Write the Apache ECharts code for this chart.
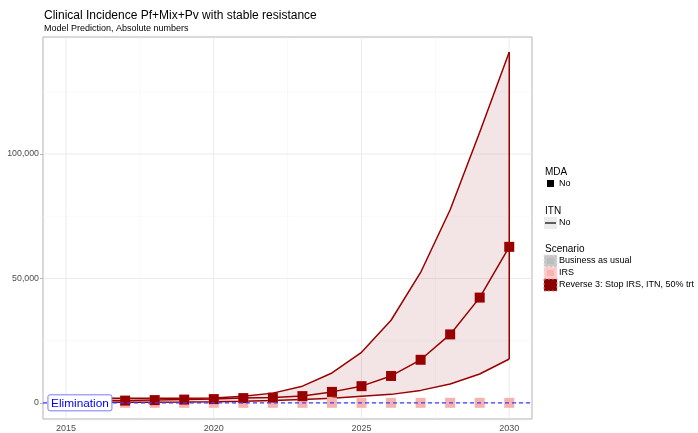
<!DOCTYPE html>
<html><head><meta charset="utf-8">
<script src="https://cdn.jsdelivr.net/npm/echarts@6/dist/echarts.min.js"></script>
<style>html,body{margin:0;padding:0;background:#fff}#c{width:698px;height:433px}</style>
</head><body><div id="c"></div>
<script>
var years = [2015,2016,2017,2018,2019,2020,2021,2022,2023,2024,2025,2026,2027,2028,2029,2030];
var medianVals = [900,900,900,1100,1300,1500,1900,2100,2700,4400,6700,10800,17300,27500,42300,62700];
var upperVals = [1800,1800,1800,1800,1850,1900,2600,3900,6700,12000,20300,33200,52400,77600,108800,141000];
var lowerVals = [200,200,200,250,300,400,600,900,1300,1800,2600,3400,5000,7600,11600,17600];
var irsYears = [2017,2018,2019,2020,2021,2022,2023,2024,2025,2026,2027,2028,2029,2030];
var irsVals = [0,0,0,0,0,0,0,0,0,0,0,0,0,0];
var xTicks = [2015,2020,2025,2030];
var xMinor = [2017.5,2022.5,2027.5];
var yTicks = [0,50000,100000];
var yMinor = [25000,75000,125000];
var eliminationLabel = {x: 2015.47, y: 0, text: 'Elimination'};

var FONT = '"Liberation Sans", Arial, sans-serif';
var RED = '#990000';
var X_MIN = 2014.22, X_MAX = 2030.77, Y_MIN = -6500, Y_MAX = 147050;
function pairs(xs, ys){ return xs.map(function(x,i){ return [x, ys[i]]; }); }
var last = years.length - 1;

var chart = echarts.init(document.getElementById('c'), null, {renderer:'canvas'});

var gridData = [];
xTicks.forEach(function(v){ gridData.push([0, v, 1]); });
xMinor.forEach(function(v){ gridData.push([0, v, 0]); });
yTicks.forEach(function(v){ gridData.push([1, v, 1]); });
yMinor.forEach(function(v){ gridData.push([1, v, 0]); });

function legendKey(x, y, fill, border, dot){
  var els = [{type:'rect', shape:{x:x, y:y, width:13, height:12}, style:{fill:fill, stroke:border, lineWidth:1, lineDash:[2,2]}}];
  if (dot) els.push({type:'rect', shape:{x:x+3, y:y+3, width:7, height:6}, style:{fill:dot}});
  return els;
}

var graphics = [
  {type:'text', left:44, top:10, style:{text:'Clinical Incidence Pf+Mix+Pv with stable resistance', font:'12px '+FONT, fill:'#000'}},
  {type:'text', left:44, top:24, style:{text:'Model Prediction, Absolute numbers', font:'9px '+FONT, fill:'#000'}},
  {type:'text', left:545, top:167, style:{text:'MDA', font:'10px '+FONT, fill:'#000'}},
  {type:'rect', shape:{x:547, y:180, width:7, height:7}, style:{fill:'#000'}},
  {type:'text', left:559, top:179, style:{text:'No', font:'9px '+FONT, fill:'#000'}},
  {type:'text', left:545, top:206, style:{text:'ITN', font:'10px '+FONT, fill:'#000'}},
  {type:'rect', shape:{x:544, y:217, width:13, height:12}, style:{fill:'#ebebeb'}},
  {type:'line', shape:{x1:545, y1:223, x2:556, y2:223}, style:{stroke:'#000', lineWidth:1.2}},
  {type:'text', left:559, top:218, style:{text:'No', font:'9px '+FONT, fill:'#000'}},
  {type:'text', left:545, top:244, style:{text:'Scenario', font:'10px '+FONT, fill:'#000'}}
].concat(
  legendKey(544, 255, '#c8c8c8', '#e4e4e4', '#bdbdbd'),
  legendKey(544, 267, '#fbcaca', '#fde4e4', '#f8b4b0'),
  legendKey(544, 279, '#8b0000', '#d08080', '#8b0000')
).concat([
  {type:'text', left:559, top:256, style:{text:'Business as usual', font:'9px '+FONT, fill:'#000'}},
  {type:'text', left:559, top:268, style:{text:'IRS', font:'9px '+FONT, fill:'#000'}},
  {type:'text', left:559, top:280, style:{text:'Reverse 3: Stop IRS, ITN, 50% trt', font:'9px '+FONT, fill:'#000'}}
]);

var option = {
  animation:false,
  backgroundColor:'#fff',
  grid:{left:43, top:37, width:489, height:385, show:true, borderColor:'#b3b3b3', borderWidth:1, backgroundColor:'#fff'},
  xAxis:{type:'value', min:X_MIN, max:X_MAX,
    axisLine:{show:false}, splitLine:{show:false},
    axisTick:{show:true, length:3, lineStyle:{color:'#b3b3b3'}, customValues:xTicks},
    axisLabel:{customValues:xTicks, color:'#4d4d4d', fontSize:9, fontFamily:FONT, margin:5, formatter:function(v){return String(v);}}
  },
  yAxis:{type:'value', min:Y_MIN, max:Y_MAX,
    axisLine:{show:false}, splitLine:{show:false},
    axisTick:{show:true, length:3, lineStyle:{color:'#b3b3b3'}, customValues:yTicks},
    axisLabel:{customValues:yTicks, color:'#4d4d4d', fontSize:8.8, fontFamily:FONT, margin:4,
      formatter:function(v){return v.toLocaleString('en-US');}}
  },
  graphic: graphics,
  series:[
    {type:'custom', name:'grid', silent:true, z:0, data:gridData,
      encode:{x:1, y:1},
      renderItem:function(params, api){
        var o = api.value(0), v = api.value(1), major = api.value(2);
        var p1, p2;
        if (o === 0) { p1 = api.coord([v, Y_MIN]); p2 = api.coord([v, Y_MAX]); }
        else { p1 = api.coord([X_MIN, v]); p2 = api.coord([X_MAX, v]); }
        return {type:'line', shape:{x1:p1[0], y1:p1[1], x2:p2[0], y2:p2[1]},
          style:{stroke: major ? '#e6e6e6' : '#f2f2f2', lineWidth: major ? 0.8 : 0.5}};
      }},
    {type:'custom', name:'ribbon', silent:true, z:1,
      data: years.map(function(y,i){ return [y, lowerVals[i], upperVals[i]]; }),
      encode:{x:0, y:[1,2]},
      renderItem:function(params, api){
        if (params.dataIndex !== 0) return null;
        var pts = [];
        for (var i = 0; i < years.length; i++) pts.push(api.coord([years[i], upperVals[i]]));
        for (var j = years.length - 1; j >= 0; j--) pts.push(api.coord([years[j], lowerVals[j]]));
        return {type:'polygon', shape:{points:pts}, style:{fill:'rgba(139,0,0,0.1)'}};
      }},
    {type:'line', name:'upper', data:pairs(years, upperVals), symbol:'none', lineStyle:{color:RED, width:1.5}, z:2},
    {type:'line', name:'lower', data:pairs(years, lowerVals), symbol:'none', lineStyle:{color:RED, width:1.5}, z:2},
    {type:'line', name:'edge', data:[[years[last], lowerVals[last]],[years[last], upperVals[last]]], symbol:'none', lineStyle:{color:RED, width:1.5}, z:2},
    {type:'scatter', name:'IRS', data:pairs(irsYears, irsVals), symbol:'rect', symbolSize:10, itemStyle:{color:'#f6b3ad', opacity:1}, z:3},
    {type:'line', name:'median', data:pairs(years, medianVals), symbol:'rect', symbolSize:10, showAllSymbol:true,
      lineStyle:{color:RED, width:1.5}, itemStyle:{color:RED}, z:4},
    {type:'custom', name:'zero', silent:true, z:6, data:[[0]],
      encode:{y:0},
      renderItem:function(params, api){
        var p1 = api.coord([X_MIN, 0]), p2 = api.coord([X_MAX, 0]);
        return {type:'line', shape:{x1:p1[0], y1:p1[1], x2:p2[0], y2:p2[1]},
          style:{stroke:'#3b3bff', lineWidth:1.2, lineDash:[4,3]}};
      }},
    {type:'custom', name:'elim', silent:true, z:10, data:[[eliminationLabel.x, eliminationLabel.y]],
      encode:{x:0, y:1},
      renderItem:function(params, api){
        var c = api.coord([api.value(0), api.value(1)]);
        var w = 64, h = 16;
        return {type:'group', children:[
          {type:'rect', shape:{x:c[0]-w/2, y:c[1]-h/2, width:w, height:h, r:2},
            style:{fill:'#ffffff', stroke:'#7a7aff', lineWidth:1}},
          {type:'text', style:{x:c[0], y:c[1]+0.5, text:eliminationLabel.text, font:'11.8px '+FONT, fill:'#0000ff',
            align:'center', verticalAlign:'middle'}}
        ]};
      }}
  ]
};
chart.setOption(option);
</script>
</body></html>
